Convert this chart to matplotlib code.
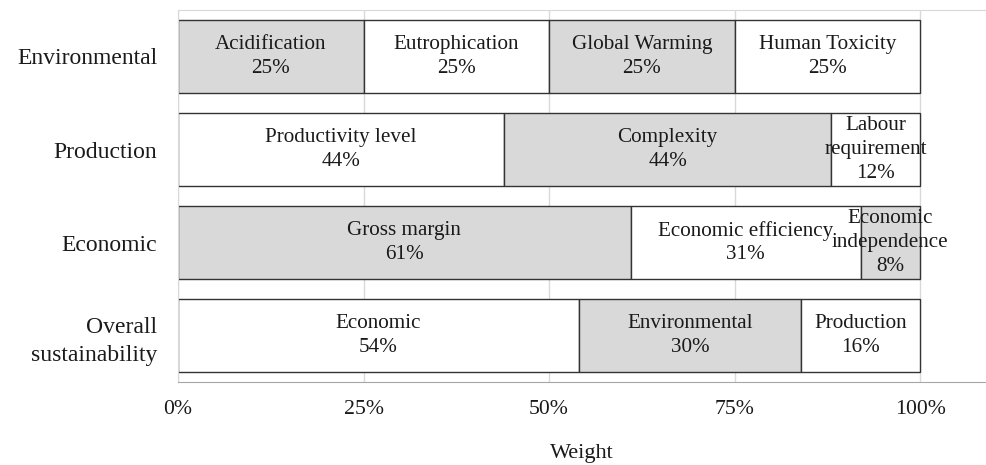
#!/usr/bin/env python3
"""
Stacked weight bars for sustainability indicators
"""

import matplotlib.pyplot as plt

plt.rcParams['font.family'] = ['Liberation Serif', 'DejaVu Serif']

# categories from top to bottom
categories = ['Environmental', 'Production', 'Economic', 'Overall\nsustainability']

env_labels = ['Acidification', 'Eutrophication', 'Global Warming', 'Human Toxicity']
env_weights = [25, 25, 25, 25]

prod_labels = ['Productivity level', 'Complexity', 'Labour\nrequirement']
prod_weights = [44, 44, 12]

econ_labels = ['Gross margin', 'Economic efficiency', 'Economic\nindependence']
econ_weights = [61, 31, 8]

overall_labels = ['Economic', 'Environmental', 'Production']
overall_weights = [54, 30, 16]

# fill pattern per row (True = grey)
env_grey = [True, False, True, False]
prod_grey = [False, True, False]
econ_grey = [True, False, True]
overall_grey = [False, True, False]

rows = [
    (env_labels, env_weights, env_grey),
    (prod_labels, prod_weights, prod_grey),
    (econ_labels, econ_weights, econ_grey),
    (overall_labels, overall_weights, overall_grey),
]

fig = plt.figure(figsize=(9.86, 4.65), dpi=100)
ax = fig.add_axes([178 / 986, 1 - 382 / 465, (985 - 178) / 986, (382 - 10) / 465])

for i, (labels, weights, grey) in enumerate(rows):
    left = 0
    for lab, w, g in zip(labels, weights, grey):
        ax.barh(i, w, left=left, height=0.79,
                color='#d9d9d9' if g else 'white',
                edgecolor='#333333', linewidth=1.0, zorder=2)
        ax.text(left + w / 2, i, f'{lab}\n{w}%', ha='center', va='center',
                fontsize=15.2, linespacing=1.35, color='#1a1a1a', zorder=3)
        left += w

ax.set_ylim(3.5, -0.5)
ax.set_xlim(0, 108.76)
ax.set_yticks(range(len(categories)))
ax.set_yticklabels(categories, fontsize=17, linespacing=1.45, color='#1a1a1a')
ax.set_xticks([0, 25, 50, 75, 100])
ax.set_xticklabels(['0%', '25%', '50%', '75%', '100%'], fontsize=15.7, color='#1a1a1a')
ax.tick_params(axis='both', length=0)
ax.tick_params(axis='x', pad=13)
ax.tick_params(axis='y', pad=15)
ax.set_xlabel('Weight', fontsize=16, labelpad=18, color='#1a1a1a')

ax.grid(True, axis='x', color='#d9d9d9', linewidth=1.0, zorder=0)
ax.spines['right'].set_visible(False)
ax.spines['top'].set_color('#d9d9d9')
ax.spines['left'].set_color('#d9d9d9')
ax.spines['bottom'].set_color('#a6a6a6')

plt.savefig('out.png', dpi=100)
